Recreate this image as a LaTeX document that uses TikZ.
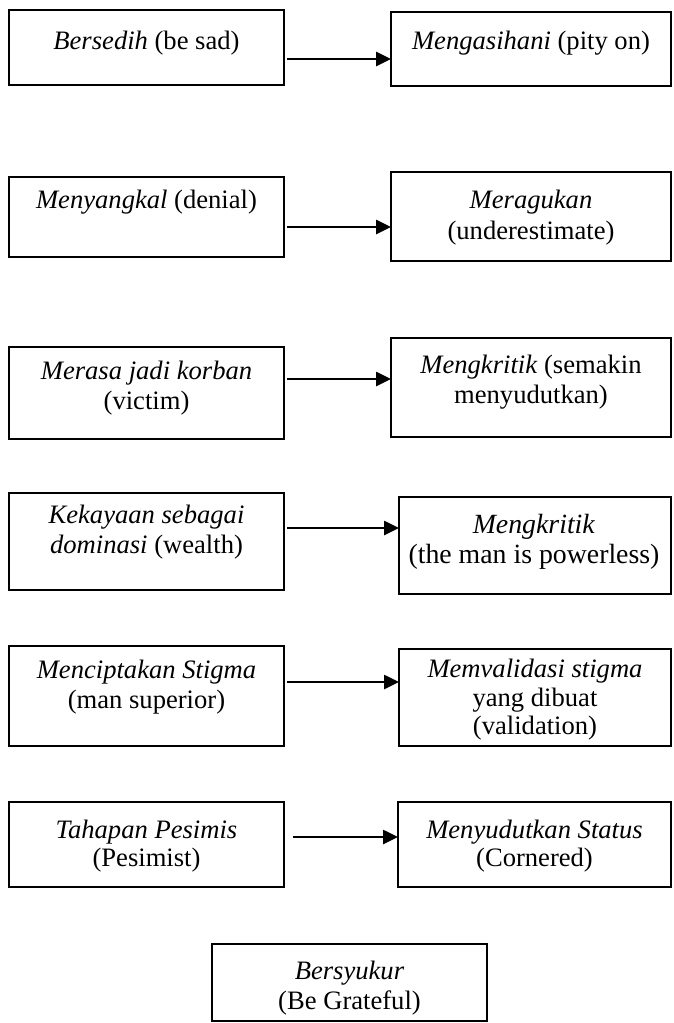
\documentclass[tikz,border=0pt]{standalone}
\usepackage{fontspec}
\setmainfont{Liberation Serif}
\usetikzlibrary{arrows.meta}
\begin{document}
\begin{tikzpicture}[x=1pt,y=-1pt,
  box/.style={draw, line width=2.6pt, rectangle, inner sep=0pt, outer sep=0pt},
  txt/.style={align=center, inner sep=0pt, font=\fontsize{26.6}{30}\selectfont},
  arr/.style={line width=2.6pt, -{Triangle[length=15pt,width=14pt]}, shorten <=3pt}]
\useasboundingbox (0,0) rectangle (674,1023);
% row 1
\node[box, minimum width=275pt, minimum height=75pt] (L1) at (146.5,47.5) {};
\node[box, minimum width=280pt, minimum height=74pt] (R1) at (531,49) {};
\node[txt] (tL1) at (146.5,43) {\textit{Bersedih} (be sad)};
\node[txt] (tR1) at (531,43) {\textit{Mengasihani} (pity on)};
\coordinate (a1) at (0,59);
\draw[arr] (L1.east |- a1) -- (R1.west |- a1);
% row 2
\node[box, minimum width=275pt, minimum height=80pt] (L2) at (146.5,217) {};
\node[box, minimum width=280pt, minimum height=89pt] (R2) at (531,216.5) {};
\node[txt] (tL2) at (146.5,202) {\textit{Menyangkal} (denial)};
\node[txt, font=\fontsize{26.6}{31}\selectfont] (tR2) at (531,217.5) {\textit{Meragukan}\\(underestimate)};
\coordinate (a2) at (0,227);
\draw[arr] (L2.east |- a2) -- (R2.west |- a2);
% row 3
\node[box, minimum width=275pt, minimum height=92pt] (L3) at (146.5,393) {};
\node[box, minimum width=280pt, minimum height=99pt] (R3) at (531,387.5) {};
\node[txt] (tL3) at (146.5,388) {\textit{Merasa jadi korban}\\(victim)};
\node[txt] (tR3) at (531,382) {\textit{Mengkritik} (semakin\\menyudutkan)};
\coordinate (a3) at (0,379);
\draw[arr] (L3.east |- a3) -- (R3.west |- a3);
% row 4
\node[box, minimum width=275pt, minimum height=97pt] (L4) at (146.5,541.5) {};
\node[box, minimum width=272pt, minimum height=97pt] (R4) at (535,545.5) {};
\node[txt] (tL4) at (146.5,532) {\textit{Kekayaan sebagai}\\\textit{dominasi} (wealth)};
\node[txt, font=\fontsize{27.8}{30}\selectfont] (tR4) at (534,542) {\textit{Mengkritik}\\(the man is powerless)};
\coordinate (a4) at (0,528);
\draw[arr] (L4.east |- a4) -- (R4.west |- a4);
% row 5
\node[box, minimum width=275pt, minimum height=100pt] (L5) at (146.5,696) {};
\node[box, minimum width=272pt, minimum height=97pt] (R5) at (535,697.5) {};
\node[txt] (tL5) at (146.5,687.5) {\textit{Menciptakan Stigma}\\(man superior)};
\node[txt, font=\fontsize{26.6}{28.5}\selectfont] (tR5) at (535,700) {\textit{Memvalidasi stigma}\\yang dibuat\\(validation)};
\coordinate (a5) at (0,682);
\draw[arr] (L5.east |- a5) -- (R5.west |- a5);
% row 6
\node[box, minimum width=275pt, minimum height=85pt] (L6) at (146.5,844.5) {};
\node[box, minimum width=273pt, minimum height=85pt] (R6) at (534.5,844.5) {};
\node[txt, font=\fontsize{26.6}{28}\selectfont] (tL6) at (146.5,846) {\textit{Tahapan Pesimis}\\(Pesimist)};
\node[txt, font=\fontsize{26.6}{28}\selectfont] (tR6) at (534.5,846) {\textit{Menyudutkan Status}\\(Cornered)};
\coordinate (a6) at (0,837);
\draw[arr, shorten <=9pt] (L6.east |- a6) -- (R6.west |- a6);
% row 7
\node[box, minimum width=275pt, minimum height=77pt] (B7) at (349.5,982.5) {};
\node[txt] (tB7) at (349.5,988) {\textit{Bersyukur}\\(Be Grateful)};
\end{tikzpicture}
\end{document}
